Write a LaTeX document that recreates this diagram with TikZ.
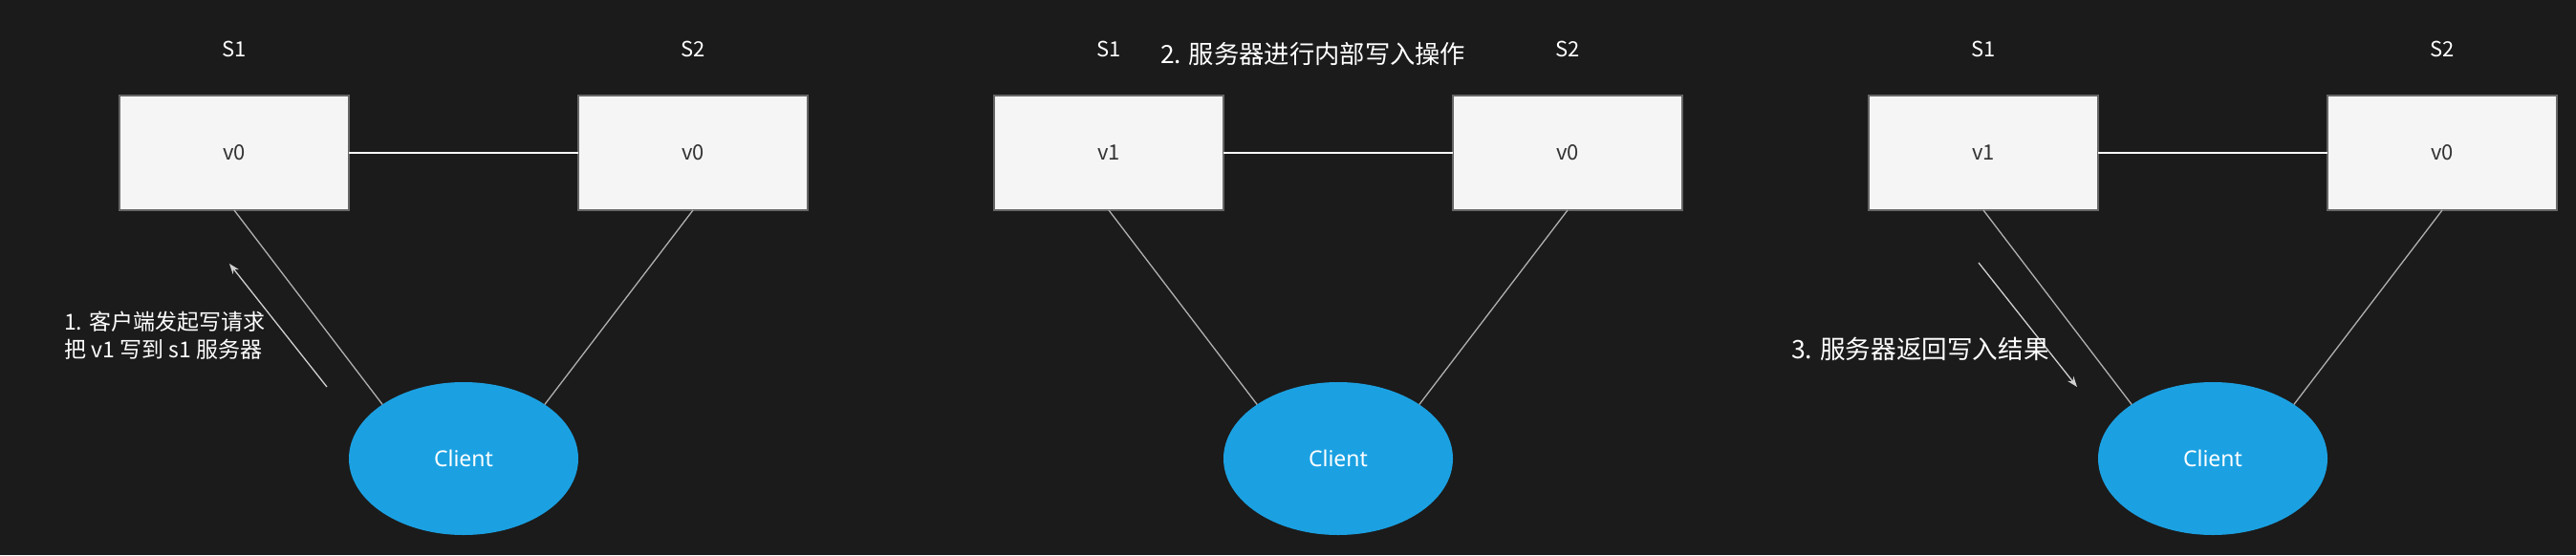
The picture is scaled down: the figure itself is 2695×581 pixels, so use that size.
\documentclass[tikz,border=0pt]{standalone}
\usepackage{fontspec}
\setmainfont{Noto Sans CJK SC}
\newfontfamily\clientfont{Noto Sans}
\usetikzlibrary{shapes.geometric,arrows.meta}
\definecolor{bgc}{HTML}{1B1B1B}
\definecolor{boxfill}{HTML}{F5F5F5}
\definecolor{boxdraw}{HTML}{666666}
\definecolor{boxtext}{HTML}{333333}
\definecolor{linkc}{HTML}{B0B0B0}
\definecolor{arrc}{HTML}{D0D0D0}
\definecolor{clientc}{HTML}{1BA1E2}
\tikzset{
  server/.style={draw=boxdraw, line width=1.2pt, fill=boxfill, minimum width=240pt, minimum height=120pt, inner sep=0pt, outer sep=0pt, text=boxtext, font=\fontsize{22}{26}\selectfont},
  slabel/.style={text=white, inner sep=0pt, font=\fontsize{22}{26}\selectfont},
  client/.style={ellipse, fill=clientc, minimum width=240pt, minimum height=160pt, inner sep=0pt, outer sep=0pt, text=white, font=\clientfont\fontsize{23}{26}\selectfont},
  peer/.style={draw=white, line width=1.5pt},
  link/.style={draw=linkc, line width=1.3pt},
  msg/.style={draw=arrc, line width=1.3pt, -{Stealth[length=11pt,width=8pt]}},
  note/.style={text=white, inner sep=0pt, anchor=west, align=left},
}
\begin{document}
\begin{tikzpicture}[x=1pt,y=-1pt]
\fill[bgc] (0,0) rectangle (2695,581);
\useasboundingbox (0,0) rectangle (2695,581);
\foreach \p/\dx/\val in {a/0/v0, b/915/v1, c/1830/v1}{
  \node[server] (s1\p) at (245+\dx,160) {\val};
  \node[server] (s2\p) at (725+\dx,160) {v0};
  \node[slabel] (l1\p) at (245+\dx,51) {S1};
  \node[slabel] (l2\p) at (725+\dx,51) {S2};
  \node[client] (c\p) at (485+\dx,480) {Client};
  \draw[peer] (s1\p.east) -- (s2\p.west);
  \draw[link] (s1\p.south) -- (c\p.north west);
  \draw[link] (s2\p.south) -- (c\p.north east);
}
\coordinate (a1s) at (342,405);
\coordinate (a1e) at (240,276);
\draw[msg] (a1s) -- (a1e);
\coordinate (a3s) at (2070,275);
\coordinate (a3e) at (2173,405);
\draw[msg] (a3s) -- (a3e);
\node[note, font=\fontsize{23}{28.5}\selectfont] (t1) at (67,351) {1. 客户端发起写请求\\把 v1 写到 s1 服务器};
\node[note, font=\fontsize{26.3}{30}\selectfont] (t2) at (1214,56) {2. 服务器进行内部写入操作};
\node[note, font=\fontsize{26.6}{30}\selectfont] (t3) at (1874,365) {3. 服务器返回写入结果};
\end{tikzpicture}
\end{document}
